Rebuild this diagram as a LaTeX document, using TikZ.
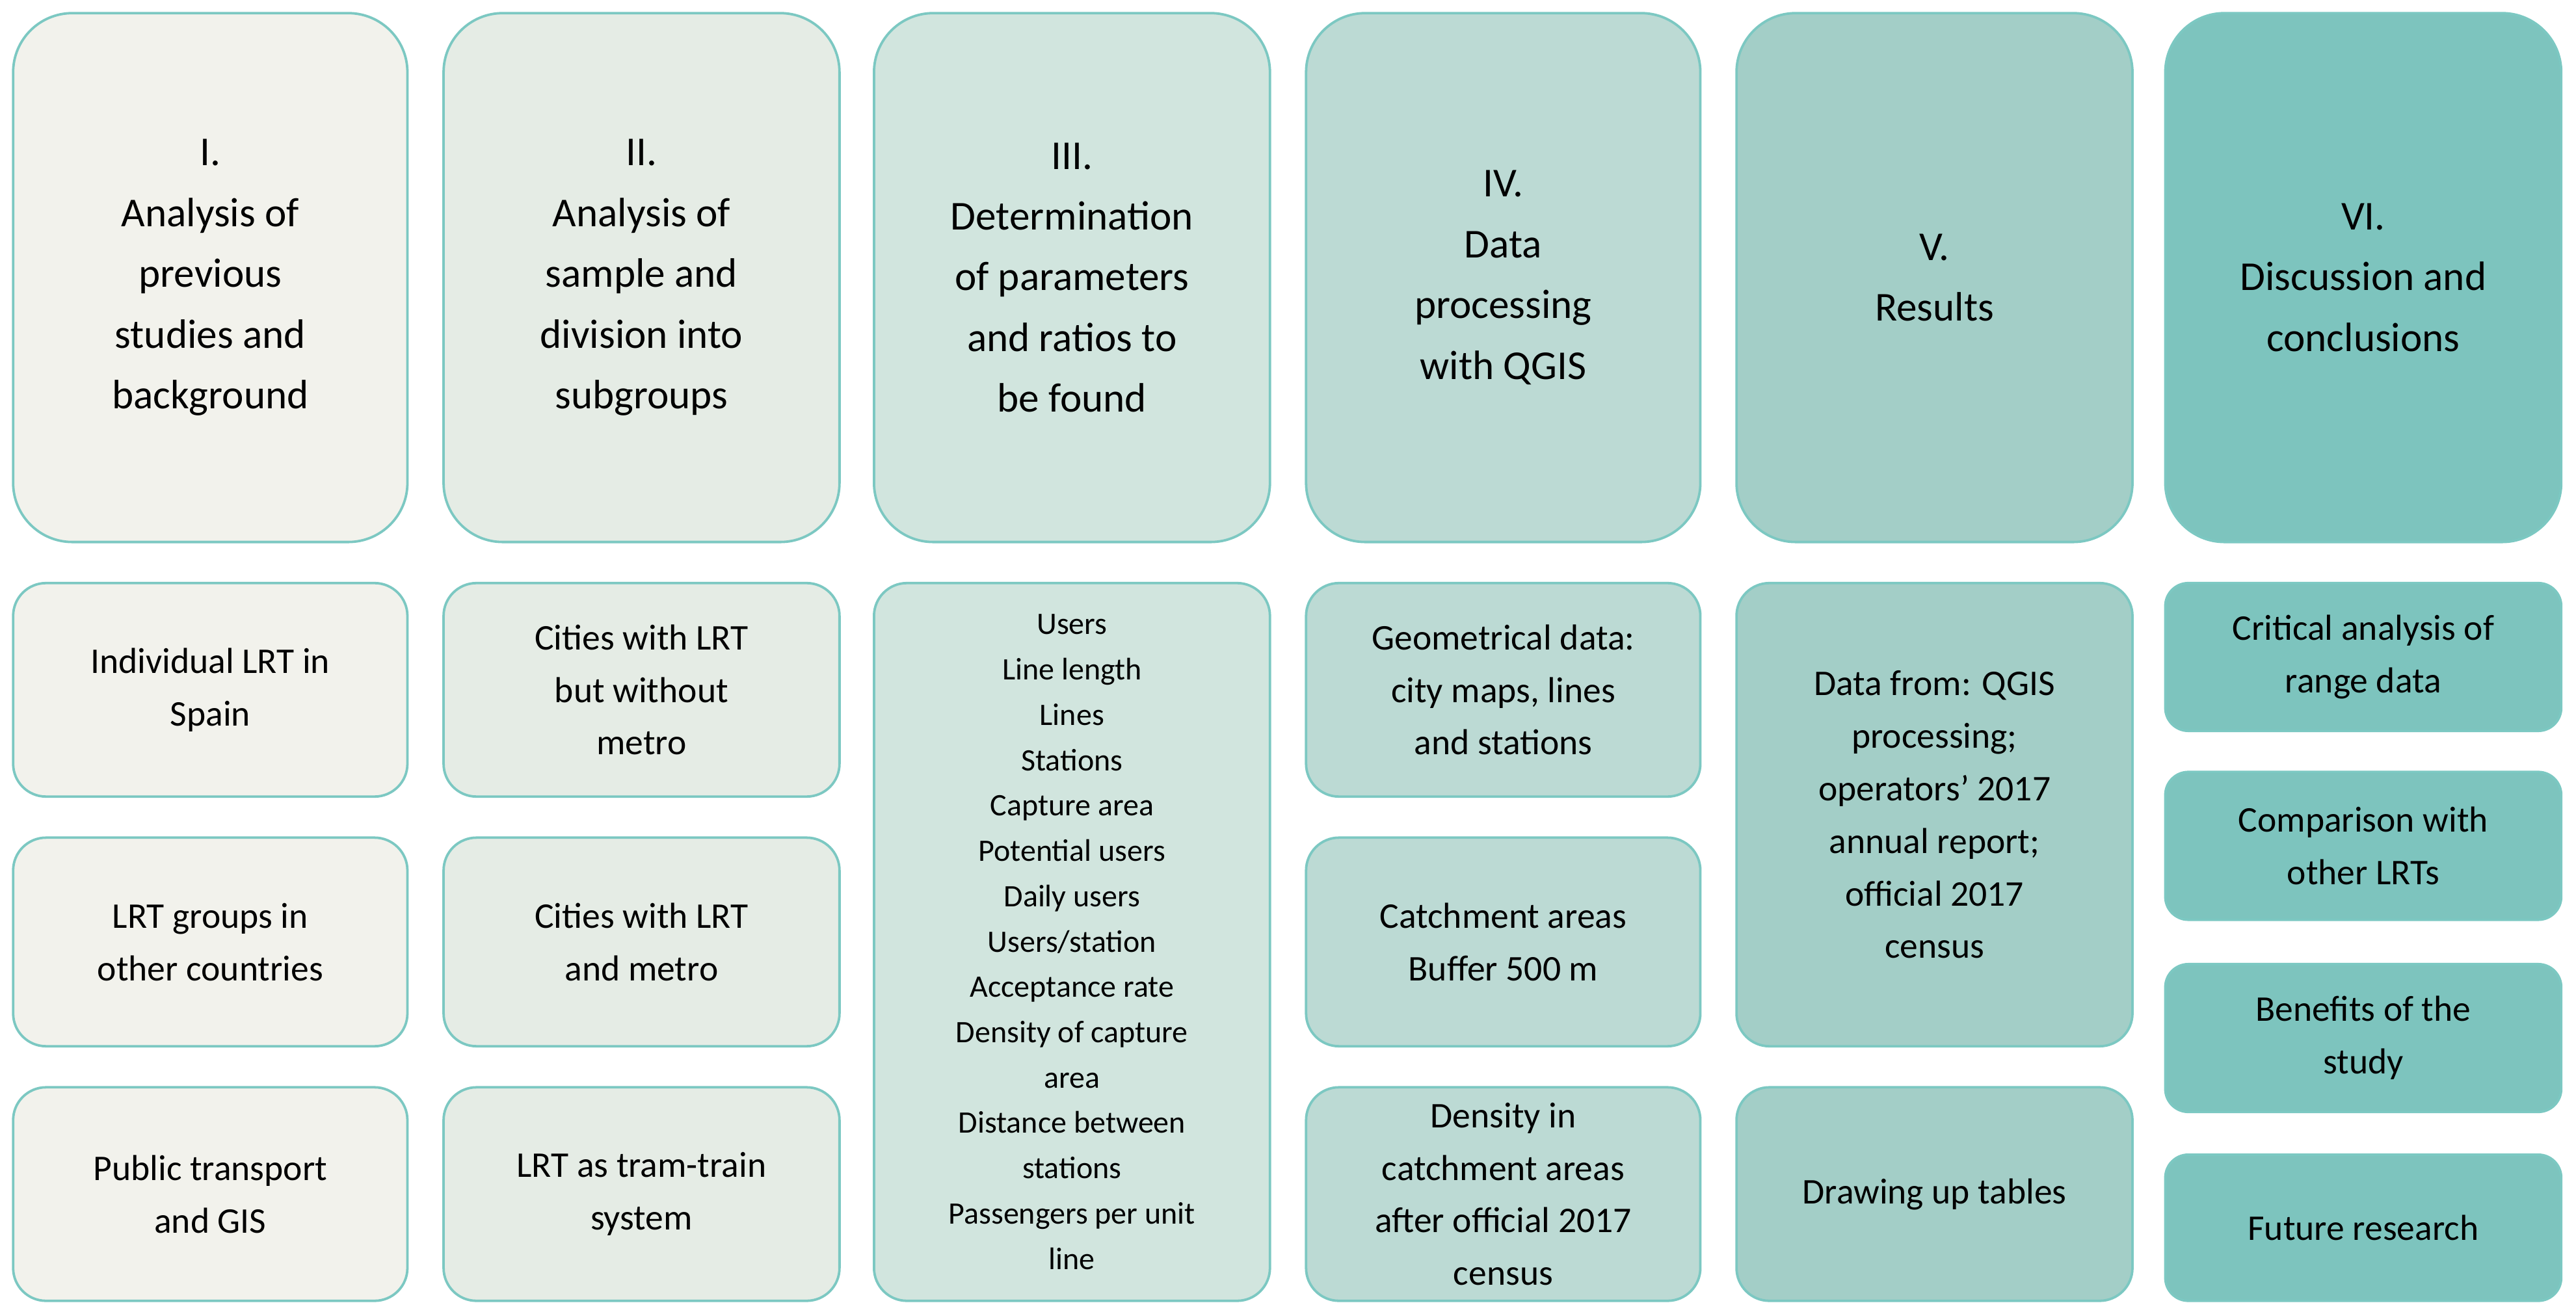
\documentclass[tikz,border=0pt]{standalone}
\usepackage{fontspec}
\setmainfont{Carlito}
\definecolor{bd}{HTML}{7CC8C2}
\definecolor{c1}{HTML}{F2F2EC}
\definecolor{c2}{HTML}{E5ECE5}
\definecolor{c3}{HTML}{D1E5DE}
\definecolor{c4}{HTML}{BCDAD4}
\definecolor{c5}{HTML}{A3CEC7}
\definecolor{c6}{HTML}{7DC4BE}
\tikzset{
 topbox/.style={draw=bd,line width=1.5pt,rounded corners=36pt,align=center,font=\fontsize{25}{37}\selectfont,inner sep=0pt},
 subbox/.style={draw=bd,line width=1.5pt,rounded corners=20pt,align=center,font=\fontsize{22}{32}\selectfont,inner sep=0pt},
}
\newcommand{\bx}[7]{\node[#1,fill=#2,minimum width=#5pt-#3pt,minimum height=#6pt-#4pt] (#7) at ({(#3+#5)/2*1pt},{-(#4+#6)/2*1pt})}
\begin{document}
\begin{tikzpicture}
\useasboundingbox (0,0) rectangle (1568pt,-800pt);
% top row
\bx{topbox}{c1}{8}{8}{248}{330}{t1} {I.\\Analysis of\\previous\\studies and\\background};
\bx{topbox}{c2}{270}{8}{511}{330}{t2} {II.\\Analysis of\\sample and\\division into\\subgroups};
\bx{topbox}{c3}{532}{8}{773}{330}{t3} {III.\\Determination\\of parameters\\and ratios to\\be found};
\bx{topbox}{c4}{795}{8}{1035}{330}{t4} {IV.\\Data\\processing\\with QGIS};
\bx{topbox}{c5}{1057}{8}{1298}{330}{t5} {V.\\Results};
\bx{topbox}{c6}{1318}{8}{1559}{330}{t6} {VI.\\Discussion and\\conclusions};
% column 1
\bx{subbox}{c1}{8}{355}{248}{485}{a1} {Individual LRT in\\Spain};
\bx{subbox}{c1}{8}{510}{248}{637}{a2} {LRT groups in\\other countries};
\bx{subbox}{c1}{8}{662}{248}{792}{a3} {Public transport\\and GIS};
% column 2
\bx{subbox}{c2}{270}{355}{511}{485}{b1} {Cities with LRT\\but without\\metro};
\bx{subbox}{c2}{270}{510}{511}{637}{b2} {Cities with LRT\\and metro};
\bx{subbox}{c2}{270}{662}{511}{792}{b3} {LRT as tram-train\\system};
% column 3
\bx{subbox,font=\fontsize{19}{27.6}\selectfont}{c3}{532}{355}{773}{792}{c1n} {Users\\Line length\\Lines\\Stations\\Capture area\\Potential users\\Daily users\\Users/station\\Acceptance rate\\Density of capture\\area\\Distance between\\stations\\Passengers per unit\\line};
% column 4
\bx{subbox}{c4}{795}{355}{1035}{485}{d1} {Geometrical data:\\city maps, lines\\and stations};
\bx{subbox}{c4}{795}{510}{1035}{637}{d2} {Catchment areas\\Buffer 500 m};
\bx{subbox}{c4}{795}{662}{1035}{792}{d3} {Density in\\catchment areas\\after official 2017\\census};
% column 5
\bx{subbox}{c5}{1057}{355}{1298}{637}{e1} {Data from: QGIS\\processing;\\operators’ 2017\\annual report;\\official 2017\\census};
\bx{subbox}{c5}{1057}{662}{1298}{792}{e2} {Drawing up tables};
% column 6
\bx{subbox,rounded corners=14pt}{c6}{1318}{355}{1559}{445}{f1} {Critical analysis of\\range data};
\bx{subbox,rounded corners=14pt}{c6}{1318}{470}{1559}{560}{f2} {Comparison with\\other LRTs};
\bx{subbox,rounded corners=14pt}{c6}{1318}{587}{1559}{677}{f3} {Benefits of the\\study};
\bx{subbox,rounded corners=14pt}{c6}{1318}{703}{1559}{792}{f4} {Future research};
\end{tikzpicture}
\end{document}
